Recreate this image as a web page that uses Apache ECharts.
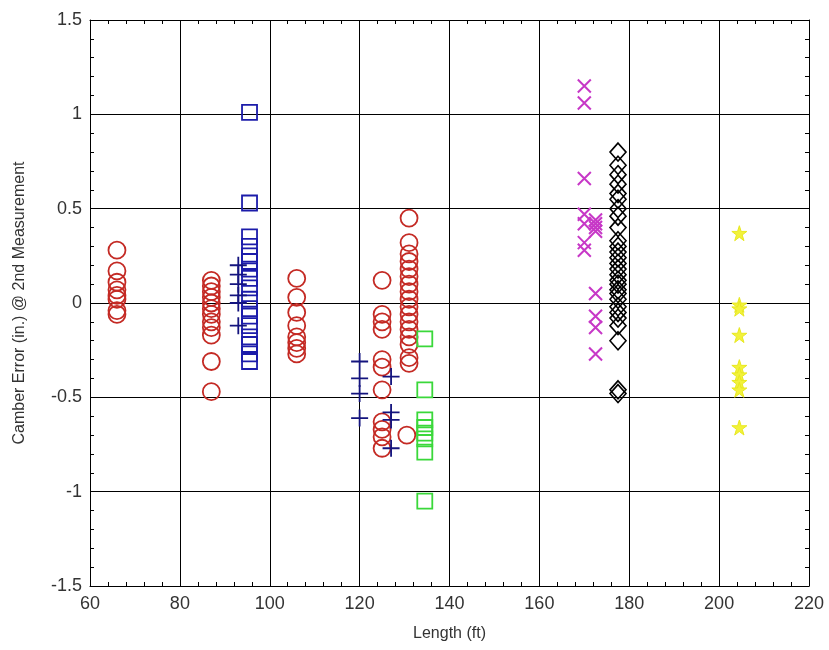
<!DOCTYPE html>
<html>
<head>
<meta charset="utf-8">
<script src="https://cdn.jsdelivr.net/npm/echarts@6/dist/echarts.min.js"></script>
<style>
  html, body { margin: 0; padding: 0; background: #fff; }
  #chart { width: 829px; height: 650px; }
</style>
</head>
<body>
<div id="chart"></div>
<script>
// lengths (ft) of each column of red circles, and the camber errors in each column
var circleLengths = [66, 87, 106, 125, 131, 130.5];
var circleErrors = [
  [0.28, 0.17, 0.11, 0.07, 0.04, 0.02, -0.04, -0.06],
  [0.12, 0.09, 0.06, 0.03, 0.0, -0.03, -0.06, -0.1, -0.13, -0.17, -0.31, -0.47],
  [0.13, 0.03, -0.05, -0.12, -0.18, -0.21, -0.24, -0.27],
  [0.12, -0.06, -0.1, -0.14, -0.3, -0.34, -0.46, -0.63, -0.67, -0.71, -0.77],
  [0.45, 0.32, 0.26, 0.22, 0.18, 0.14, 0.1, 0.06, 0.02, -0.02, -0.06, -0.1, -0.14, -0.18, -0.22, -0.29, -0.32],
  [-0.7]
];

var blueSquareLengths = [95.5];
var blueSquareErrors = [
  [1.01, 0.53, 0.35, 0.3, 0.25, 0.22, 0.18, 0.13, 0.08, 0.02, -0.03, -0.07, -0.12, -0.18, -0.22, -0.27, -0.31]
];

var plusLengths = [93, 120, 127];
var plusErrors = [
  [0.2, 0.15, 0.1, 0.04, 0.0, -0.12],
  [-0.31, -0.4, -0.48, -0.61],
  [-0.39, -0.58, -0.62, -0.77]
];

var greenSquareLengths = [134.5];
var greenSquareErrors = [
  [-0.19, -0.46, -0.62, -0.66, -0.69, -0.72, -0.79, -1.05]
];

var crossLengths = [170, 172.5];
var crossErrors = [
  [1.15, 1.06, 0.66, 0.47, 0.42, 0.32, 0.28],
  [0.44, 0.42, 0.4, 0.38, 0.05, -0.07, -0.13, -0.27]
];

var diamondLengths = [177.5];
var diamondErrors = [
  [0.8, 0.73, 0.68, 0.63, 0.58, 0.55, 0.5, 0.46, 0.4, 0.33, 0.3, 0.27, 0.24, 0.21, 0.18, 0.15, 0.12,
   0.1, 0.07, 0.05, 0.02, -0.02, -0.05, -0.08, -0.12, -0.2, -0.46, -0.48]
];

var starLengths = [204.5];
var starErrors = [
  [0.37, -0.01, -0.03, -0.17, -0.34, -0.38, -0.42, -0.46, -0.66]
];

var xTicks = [60, 80, 100, 120, 140, 160, 180, 200, 220];
var yTicks = [-1.5, -1, -0.5, 0, 0.5, 1, 1.5];

function points(lengths, errors) {
  var out = [];
  lengths.forEach(function (len, i) {
    errors[i].forEach(function (v) { out.push([len, v]); });
  });
  return out;
}

var font = "'Liberation Sans Narrow', 'Liberation Sans', Arial, sans-serif";
var clear = "rgba(0,0,0,0)";

var chart = echarts.init(document.getElementById("chart"));

function axisCommon(extra) {
  var a = {
    axisLine: { show: true, onZero: false, lineStyle: { color: "#000", width: 1 } },
    axisTick: { show: true, inside: true, length: 6, lineStyle: { color: "#000" } },
    minorTick: { show: true, splitNumber: 5, length: 4, lineStyle: { color: "#000" } },
    splitLine: { show: false }
  };
  for (var k in extra) a[k] = extra[k];
  return a;
}

var option = {
  animation: false,
  backgroundColor: "#fff",
  grid: { left: 90, right: 20, top: 20, bottom: 64, containLabel: false },
  xAxis: [
    axisCommon({
      type: "value",
      position: "bottom",
      min: xTicks[0],
      max: xTicks[xTicks.length - 1],
      interval: 20,
      name: "Length (ft)",
      nameLocation: "middle",
      nameGap: 40,
      nameTextStyle: { fontFamily: font, fontSize: 16, color: "#333" },
      axisLabel: { fontFamily: font, fontSize: 18, color: "#333", margin: 9 },
      splitLine: { show: true, lineStyle: { color: "#000", width: 1 } }
    }),
    axisCommon({
      type: "value",
      position: "top",
      min: xTicks[0],
      max: xTicks[xTicks.length - 1],
      interval: 20,
      axisLabel: { show: false }
    })
  ],
  yAxis: [
    axisCommon({
      type: "value",
      position: "left",
      min: yTicks[0],
      max: yTicks[yTicks.length - 1],
      interval: 0.5,
      name: "Camber Error (in.) @ 2nd Measurement",
      nameLocation: "middle",
      nameGap: 62,
      nameTextStyle: { fontFamily: font, fontSize: 16, color: "#333" },
      axisLabel: { fontFamily: font, fontSize: 18, color: "#333", margin: 8 },
      splitLine: { show: true, lineStyle: { color: "#000", width: 1 } }
    }),
    axisCommon({
      type: "value",
      position: "right",
      min: yTicks[0],
      max: yTicks[yTicks.length - 1],
      interval: 0.5,
      axisLabel: { show: false }
    })
  ],
  series: [
    {
      name: "circles",
      type: "scatter",
      symbol: "circle",
      symbolSize: 17,
      itemStyle: { color: clear, borderColor: "#c42a24", borderWidth: 1.8, opacity: 1 },
      data: points(circleLengths, circleErrors)
    },
    {
      name: "blue squares",
      type: "scatter",
      symbol: "rect",
      symbolSize: 15,
      itemStyle: { color: clear, borderColor: "#1c1caa", borderWidth: 1.8, opacity: 1 },
      data: points(blueSquareLengths, blueSquareErrors)
    },
    {
      name: "plus",
      type: "scatter",
      symbol: "path://M5,0L5,10M0,5L10,5",
      symbolSize: 17,
      itemStyle: { color: clear, borderColor: "#14147e", borderWidth: 1.8, opacity: 1 },
      data: points(plusLengths, plusErrors)
    },
    {
      name: "green squares",
      type: "scatter",
      symbol: "rect",
      symbolSize: 15,
      itemStyle: { color: clear, borderColor: "#3ad83a", borderWidth: 1.8, opacity: 1 },
      data: points(greenSquareLengths, greenSquareErrors)
    },
    {
      name: "cross",
      type: "scatter",
      symbol: "path://M0,0L10,10M10,0L0,10",
      symbolSize: 13,
      itemStyle: { color: clear, borderColor: "#c738c7", borderWidth: 2, opacity: 1 },
      data: points(crossLengths, crossErrors)
    },
    {
      name: "diamonds",
      type: "scatter",
      symbol: "diamond",
      symbolSize: [16, 18],
      itemStyle: { color: clear, borderColor: "#000", borderWidth: 1.6, opacity: 1 },
      data: points(diamondLengths, diamondErrors)
    },
    {
      name: "stars",
      type: "scatter",
      symbol: "path://M50,0L61.2,34.5L97.6,34.5L68.2,55.9L79.4,90.5L50,69.1L20.6,90.5L31.8,55.9L2.4,34.5L38.8,34.5Z",
      symbolSize: 15,
      itemStyle: { color: "#f2f23a", borderColor: "#e8e820", borderWidth: 1, opacity: 1 },
      data: points(starLengths, starErrors)
    }
  ]
};

chart.setOption(option);
</script>
</body>
</html>
